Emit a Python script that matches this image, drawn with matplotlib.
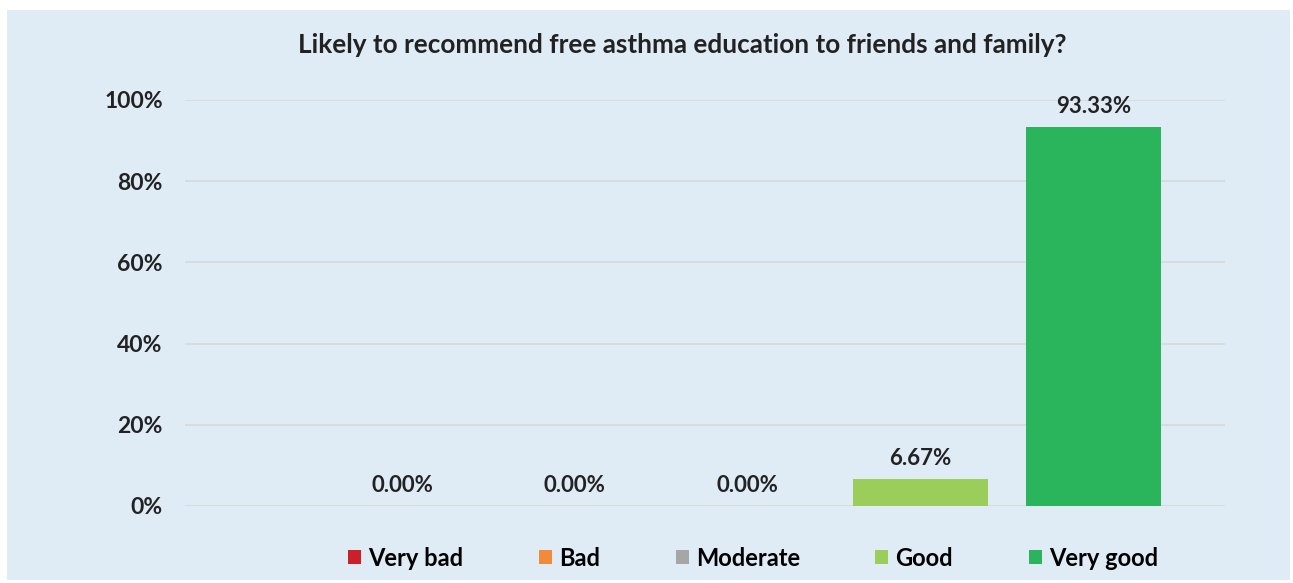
import matplotlib.pyplot as plt
import matplotlib.patches as mpatches
from matplotlib.ticker import PercentFormatter

plt.rcParams["font.family"] = ["Lato", "DejaVu Sans"]

categories = ["Very bad", "Bad", "Moderate", "Good", "Very good"]
values = [0.0, 0.0, 0.0, 6.67, 93.33]
colors = ["#C9202A", "#F28A3C", "#A6A6A6", "#9ACD5A", "#2AB45C"]
yticks = [0, 20, 40, 60, 80, 100]

BG = "#DFEBF5"
TEXT = "#222222"

fig = plt.figure(figsize=(12.93, 5.83), dpi=100)
fig.patch.set_facecolor("white")
fig.patches.append(mpatches.Rectangle((7 / 1293, 3 / 583), 1283 / 1293, 570 / 583,
                                      transform=fig.transFigure, fc=BG, ec="none",
                                      zorder=-10))

ax = fig.add_axes([185 / 1293, 1 - 506 / 583, 1040 / 1293, 406 / 583])
ax.set_facecolor("none")
ax.set_zorder(2)

x = list(range(len(categories)))
bars = ax.bar(x, values, width=0.78, color=colors, zorder=3)

for xi, v in zip(x, values):
    ax.annotate(f"{v:.2f}%", (xi, v), xytext=(0, 7), textcoords="offset points",
                ha="center", va="bottom", fontsize=16, fontweight="bold", color=TEXT)

ax.set_ylim(0, 100)
ax.set_xlim(-1.255, 4.76)
ax.set_yticks(yticks)
ax.yaxis.set_major_formatter(PercentFormatter(decimals=0))
ax.set_xticks([])
ax.tick_params(axis="y", length=0, pad=16, labelsize=16.5, labelcolor=TEXT)
for lbl in ax.get_yticklabels():
    lbl.set_fontweight("bold")
ax.grid(axis="y", color="#D6D9DC", lw=1.2, zorder=0)
for s in ax.spines.values():
    s.set_visible(False)

fig.text(682 / 1293, 1 - 45 / 583, "Likely to recommend free asthma education to friends and family?",
         ha="center", va="center", fontsize=18.8, fontweight="bold", color=TEXT)

handles = [mpatches.Patch(fc=c, ec="none", label=l) for c, l in zip(colors, categories)]
fig.legend(handles=handles, loc="center", bbox_to_anchor=(753 / 1293, 1 - 558 / 583),
           ncol=5, frameon=False, handlelength=0.55, handleheight=0.55,
           handletextpad=0.3, columnspacing=3.2, prop={"weight": "bold", "size": 17})

fig.savefig("out.png", dpi=100, facecolor="white")
